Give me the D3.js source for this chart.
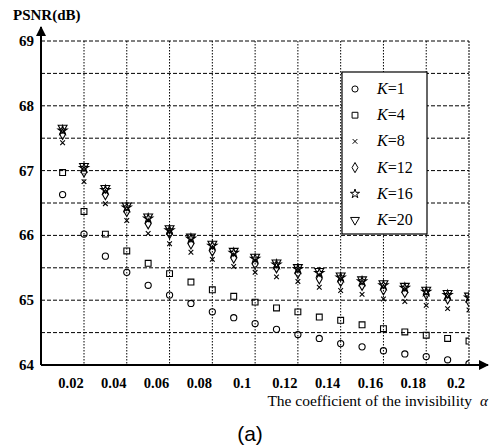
<!DOCTYPE html>
<html>
<head>
<meta charset="utf-8">
<script src="https://cdn.jsdelivr.net/npm/d3@7"></script>
<style>
  body { margin: 0; background: #fff; }
  svg text { font-family: "Liberation Serif", "Times New Roman", serif; fill: #000; }
</style>
</head>
<body>
<div id="container"></div>
<script>
// alpha values on the x axis
var alphas = [0.01, 0.02, 0.03, 0.04, 0.05, 0.06, 0.07, 0.08, 0.09, 0.10,
              0.11, 0.12, 0.13, 0.14, 0.15, 0.16, 0.17, 0.18, 0.19, 0.20];
var xTicks = [0.02, 0.04, 0.06, 0.08, 0.1, 0.12, 0.14, 0.16, 0.18, 0.2];
var yTicks = [64, 65, 66, 67, 68, 69];

// PSNR per K
var psnrK1  = [66.63, 66.02, 65.68, 65.43, 65.23, 65.08, 64.95, 64.82, 64.73, 64.64,
               64.55, 64.47, 64.41, 64.33, 64.28, 64.22, 64.17, 64.13, 64.08, 64.02];
var psnrK4  = [66.97, 66.37, 66.02, 65.76, 65.57, 65.41, 65.28, 65.16, 65.06, 64.97,
               64.88, 64.82, 64.74, 64.69, 64.62, 64.56, 64.51, 64.46, 64.41, 64.37];
var psnrK8  = [67.43, 66.83, 66.49, 66.23, 66.03, 65.87, 65.74, 65.63, 65.52, 65.43,
               65.36, 65.29, 65.20, 65.15, 65.09, 65.02, 64.98, 64.92, 64.87, 64.85];
var psnrK12 = [67.56, 66.98, 66.63, 66.37, 66.18, 66.03, 65.87, 65.76, 65.65, 65.56,
               65.50, 65.42, 65.33, 65.29, 65.23, 65.16, 65.12, 65.09, 65.02, 64.98];
var psnrK16 = [67.62, 67.04, 66.70, 66.43, 66.26, 66.08, 65.95, 65.84, 65.73, 65.64,
               65.55, 65.48, 65.42, 65.35, 65.29, 65.23, 65.19, 65.13, 65.08, 65.04];
var psnrK20 = [67.66, 67.07, 66.73, 66.46, 66.29, 66.11, 65.98, 65.87, 65.76, 65.67,
               65.58, 65.51, 65.45, 65.38, 65.32, 65.26, 65.22, 65.16, 65.11, 65.07];

var seriesNames = ["1", "4", "8", "12", "16", "20"];
var seriesValues = [psnrK1, psnrK4, psnrK8, psnrK12, psnrK16, psnrK20];

function drawChart() {
  var w = 489, h = 448;
  var pLeft = 41, pRight = 469, pTop = 41, pBottom = 365;

  var svg = d3.select("#container")
    .append("svg")
    .attr("width", w)
    .attr("height", h);

  var xScale = d3.scaleLinear().domain([0.02, 0.2]).range([84, pRight]);
  var yScale = d3.scaleLinear().domain([64, 69]).range([pBottom, pTop]);

  // marker shapes, one per K
  var timesType = d3.symbolTimes || d3.symbolCross;
  var markers = [
    { type: d3.symbolCircle, size: 30, rot: 0 },
    { type: d3.symbolSquare, size: 34, rot: 0 },
    { type: timesType, size: 16, rot: 0 },
    { type: d3.symbolDiamond, size: 30, rot: 0 },
    { type: d3.symbolStar, size: 26, rot: 0 },
    { type: d3.symbolTriangle, size: 34, rot: 180 }
  ];

  // grid: horizontal dashed lines every 0.5 dB
  var hGrid = d3.range(64.5, 69.01, 0.5);
  svg.append("g").selectAll("line")
    .data(hGrid)
    .enter()
    .append("line")
    .attr("x1", pLeft).attr("x2", pRight)
    .attr("y1", function(d) { return yScale(d); })
    .attr("y2", function(d) { return yScale(d); })
    .attr("stroke", "#000")
    .attr("stroke-width", 1)
    .attr("stroke-dasharray", "4,2");

  // grid: vertical dotted lines at the ticks
  svg.append("g").selectAll("line")
    .data(xTicks)
    .enter()
    .append("line")
    .attr("x1", function(d) { return xScale(d); })
    .attr("x2", function(d) { return xScale(d); })
    .attr("y1", pTop).attr("y2", pBottom)
    .attr("stroke", "#000")
    .attr("stroke-width", 1)
    .attr("stroke-dasharray", function(d, i) { return i == xTicks.length - 1 ? "2,1" : "1.5,1.5"; });

  // clip the points to the frame
  svg.append("clipPath").attr("id", "plotClip")
    .append("rect")
    .attr("x", pLeft).attr("y", pTop - 10)
    .attr("width", pRight - pLeft).attr("height", pBottom - pTop + 10);

  var pts = svg.append("g").attr("clip-path", "url(#plotClip)");
  seriesValues.forEach(function(vals, s) {
    var m = markers[s];
    var sym = d3.symbol().type(m.type).size(m.size);
    pts.append("g").selectAll("path")
      .data(vals)
      .enter()
      .append("path")
      .attr("d", sym)
      .attr("transform", function(d, i) {
        return "translate(" + xScale(alphas[i]) + "," + yScale(d) + ") rotate(" + m.rot + ")";
      })
      .attr("fill", "none")
      .attr("stroke", "#000")
      .attr("stroke-width", 1.1);
  });

  // axes with arrows
  svg.append("defs").append("marker")
    .attr("id", "arrow")
    .attr("viewBox", "0 0 10 10")
    .attr("refX", 9).attr("refY", 5)
    .attr("markerWidth", 5).attr("markerHeight", 5)
    .attr("markerUnits", "strokeWidth")
    .attr("orient", "auto")
    .append("path")
    .attr("d", "M0,0 L10,5 L0,10 Z")
    .attr("fill", "#000");

  svg.append("line")
    .attr("x1", pLeft).attr("y1", pBottom)
    .attr("x2", pLeft).attr("y2", 27)
    .attr("stroke", "#000").attr("stroke-width", 2)
    .attr("marker-end", "url(#arrow)");
  svg.append("line")
    .attr("x1", pLeft).attr("y1", pBottom)
    .attr("x2", 488).attr("y2", pBottom)
    .attr("stroke", "#000").attr("stroke-width", 2)
    .attr("marker-end", "url(#arrow)");

  // tick labels
  svg.append("g").selectAll("text")
    .data(yTicks)
    .enter()
    .append("text")
    .text(function(d) { return d; })
    .attr("x", 34)
    .attr("y", function(d) { return yScale(d) + 5; })
    .attr("text-anchor", "end")
    .attr("font-size", "15px")
    .attr("font-weight", "bold");

  svg.append("g").selectAll("text")
    .data(xTicks)
    .enter()
    .append("text")
    .text(function(d) { return d; })
    .attr("x", function(d) { return xScale(d) - 13; })
    .attr("y", 388)
    .attr("text-anchor", "middle")
    .attr("font-size", "14.5px")
    .attr("font-weight", "bold");

  // axis titles
  svg.append("text")
    .text("PSNR(dB)")
    .attr("x", 13).attr("y", 20)
    .attr("font-size", "15px")
    .attr("font-weight", "bold");

  svg.append("text")
    .attr("x", 472).attr("y", 406)
    .attr("text-anchor", "end")
    .attr("font-size", "15.5px")
    .text("The coefficient of the invisibility");
  svg.append("text")
    .attr("x", 480).attr("y", 406)
    .attr("font-size", "15px")
    .attr("font-style", "italic")
    .text("α");

  svg.append("text")
    .attr("x", 250).attr("y", 441)
    .attr("text-anchor", "middle")
    .style("font-family", "'Liberation Sans', Arial, sans-serif")
    .attr("font-size", "21px")
    .text("(a)");

  // legend
  var legend = svg.append("g");
  legend.append("rect")
    .attr("x", 342).attr("y", 72)
    .attr("width", 85).attr("height", 162)
    .attr("fill", "#fff")
    .attr("stroke", "#000")
    .attr("stroke-width", 1.2);

  seriesNames.forEach(function(name, i) {
    var m = markers[i];
    var yy = 89 + i * 26.2;
    legend.append("path")
      .attr("d", d3.symbol().type(m.type).size(m.size))
      .attr("transform", "translate(355," + yy + ") rotate(" + m.rot + ")")
      .attr("fill", "none")
      .attr("stroke", "#000");
    var t = legend.append("text")
      .attr("x", 377).attr("y", yy + 5)
      .attr("font-size", "16px");
    t.append("tspan").attr("font-style", "italic").text("K");
    t.append("tspan").text("=" + name);
  });
}

drawChart();
</script>
</body>
</html>
